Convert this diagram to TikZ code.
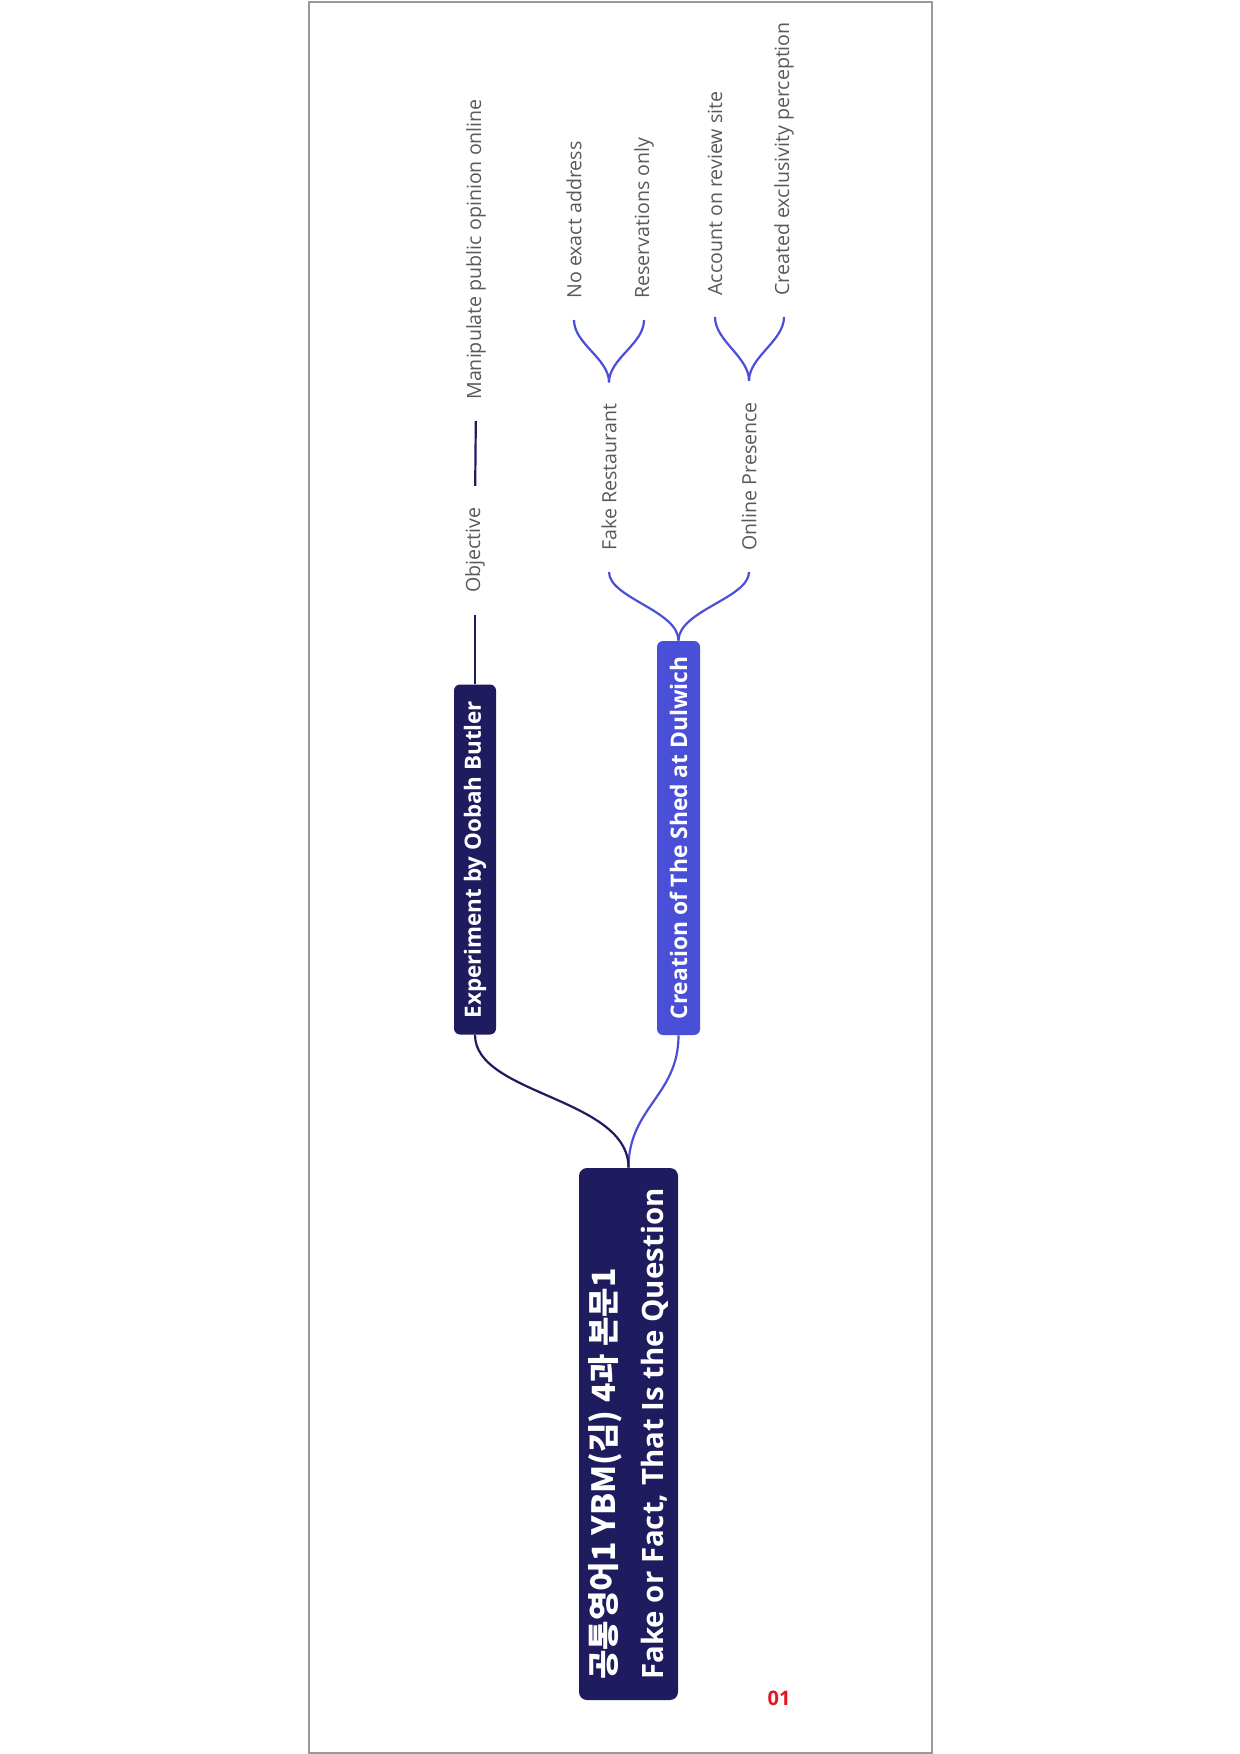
\documentclass[tikz,border=0pt]{standalone}
\usepackage{fontspec}
\setmainfont{Open Sans}
\newfontfamily\kr{Noto Sans CJK KR}
\usetikzlibrary{calc}
\definecolor{navy}{HTML}{1E1B5E}
\definecolor{vio}{HTML}{4A4FD8}
\definecolor{leafgray}{HTML}{5A5A5A}
\definecolor{framegray}{HTML}{9A9A9A}
\definecolor{pagered}{HTML}{E8141B}
\begin{document}
\begin{tikzpicture}[x=0.5pt,y=-0.5pt,
  box/.style={rounded corners=3pt, rotate=90, inner sep=0pt, text=white,
    font=\bfseries\fontsize{11.2}{13}\selectfont, minimum height=21pt},
  leaf/.style={rotate=90, inner sep=0pt, text=leafgray,
    font=\fontsize{9.8}{12}\selectfont, anchor=west},
  navyline/.style={draw=navy, line width=1.1pt},
  violine/.style={draw=vio, line width=1.1pt}]
\useasboundingbox (0,0) rectangle (1240,1754);
\fill[white] (0,0) rectangle (1240,1754);
\draw[framegray, line width=0.8pt] (309,2) rectangle (932,1753);

% main nodes
\node[box, fill=navy, rounded corners=4pt, minimum width=266pt, minimum height=49.5pt,
  align=left, font=\bfseries\fontsize{14.7}{24}\selectfont] (root) at (628.5,1434)
  {{\kr\fontsize{16}{24}\selectfont 공통영어1 YBM(김) 4과 본문1}\\Fake or Fact, That Is the Question};
\node[box, fill=navy, minimum width=175pt] (exp) at (475,859.5) {Experiment by Oobah Butler};
\node[box, fill=vio, minimum width=197pt, minimum height=21.5pt, font=\bfseries\fontsize{11.4}{13}\selectfont] (cre) at (678.5,838) {Creation of The Shed at Dulwich};

% leaves
\node[leaf] (obj) at (475,593) {Objective};
\node[leaf] (manip) at (476,400) {Manipulate public opinion online};
\node[leaf] (fake) at (609,551) {Fake Restaurant};
\node[leaf] (online) at (749,551) {Online Presence};
\node[leaf] (noaddr) at (574,299) {No exact address};
\node[leaf] (resv) at (644,299) {Reservations only};
\node[leaf] (acct) at (715,296) {Account on review site};
\node[leaf] (created) at (784,296) {Created exclusivity perception};

% page number
\node[font=\bfseries\fontsize{10}{12}\selectfont, text=pagered] (pg) at (779,1698) {01};

% connectors
\draw[violine] (root.east) .. controls +(0,-60) and +(0,60) .. (cre.west);
\draw[navyline] (root.east) .. controls +(0,-70) and +(0,60) .. (exp.west);
\draw[navyline, shorten >=11pt] (exp.east) -- (obj.west);
\draw[navyline, shorten <=10.5pt, shorten >=10.5pt] (obj.east) -- (manip.west);

\draw[violine] (cre.east) .. controls +(0,-30) and +(0,26) .. ($(fake.west)+(0,21)$);
\draw[violine] (cre.east) .. controls +(0,-30) and +(0,26) .. ($(online.west)+(0,21)$);

\draw[violine] ($(fake.east)+(0,-21)$) .. controls +(0,-24) and +(0,24) .. ($(noaddr.west)+(0,21)$);
\draw[violine] ($(fake.east)+(0,-21)$) .. controls +(0,-24) and +(0,24) .. ($(resv.west)+(0,21)$);
\draw[violine] ($(online.east)+(0,-21)$) .. controls +(0,-24) and +(0,24) .. ($(acct.west)+(0,21)$);
\draw[violine] ($(online.east)+(0,-21)$) .. controls +(0,-24) and +(0,24) .. ($(created.west)+(0,21)$);
\end{tikzpicture}
\end{document}
